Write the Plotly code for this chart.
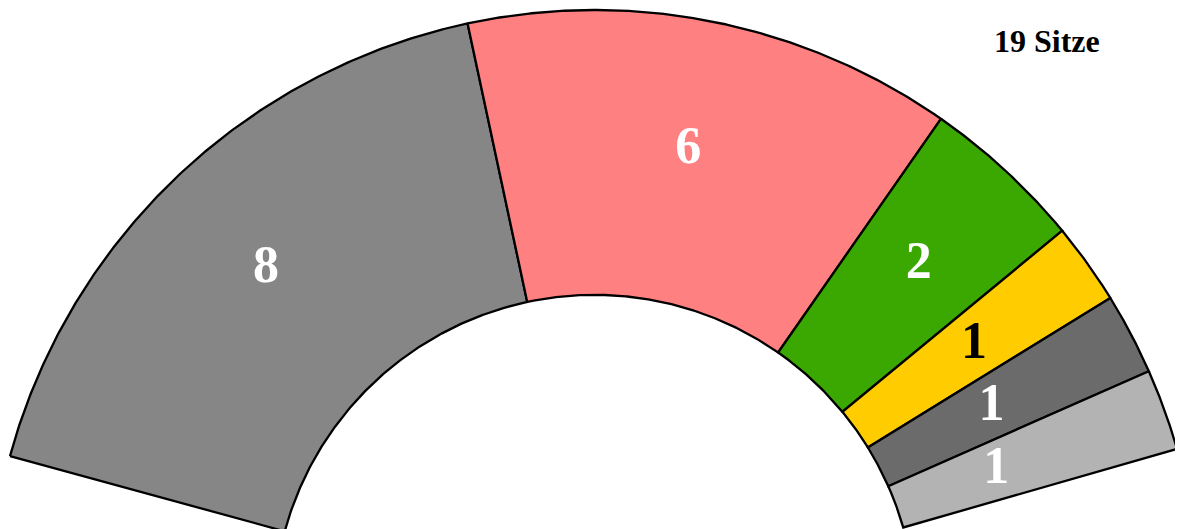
import numpy as np
import plotly.graph_objects as go

# ---- data ----
parties = ["A", "B", "C", "D", "E", "F"]
seats = [8, 6, 2, 1, 1, 1]
seat_labels = ["8", "6", "2", "1", "1", "1"]
title_text = "19 Sitze"

# ---- style ----
colors = ["#868686", "#FF8080", "#3AA800", "#FFCC00", "#6B6B6B", "#B3B3B3"]
text_colors = ["white", "white", "white", "black", "white", "white"]
label_radius = [0.789, 0.784, 0.789, 0.770, 0.740, 0.705]
start_deg, end_deg = 164.7, 16.0
r_out, r_in = 1.0, 0.53
font_family = "Liberation Serif, Times New Roman, serif"

W, H = 1183, 529
page_offset = 8  # default body margin of the html page
px_per_unit = 606.0
cx_px, cy_px = 594.5 - page_offset, 616.0 - page_offset
x_range = [(0 - cx_px) / px_per_unit, (W - cx_px) / px_per_unit]
y_range = [(cy_px - H) / px_per_unit, cy_px / px_per_unit]

fig = go.Figure()
total = sum(seats)
span = start_deg - end_deg
cum = np.concatenate([[0], np.cumsum(seats)])
lab_x, lab_y = [], []
for i, (p, s) in enumerate(zip(parties, seats)):
    a0 = np.radians(start_deg - span * cum[i] / total)
    a1 = np.radians(start_deg - span * cum[i + 1] / total)
    t = np.linspace(a0, a1, 200)
    xs = np.concatenate([r_out * np.cos(t), r_in * np.cos(t[::-1]), [r_out * np.cos(t[0])]])
    ys = np.concatenate([r_out * np.sin(t), r_in * np.sin(t[::-1]), [r_out * np.sin(t[0])]])
    fig.add_trace(go.Scatter(
        x=xs, y=ys, mode="lines", fill="toself", fillcolor=colors[i],
        line=dict(color="black", width=2.3), hoverinfo="skip", showlegend=False,
        name=p,
    ))
    am = (a0 + a1) / 2
    lab_x.append(label_radius[i] * np.cos(am))
    lab_y.append(label_radius[i] * np.sin(am))

fig.add_trace(go.Scatter(
    x=lab_x, y=lab_y, mode="text", text=seat_labels,
    textposition="middle center",
    textfont=dict(family=font_family, size=52, color=text_colors, weight="bold"),
    hoverinfo="skip", showlegend=False,
))

fig.add_annotation(
    text=f"<b>{title_text}</b>", xref="paper", yref="paper",
    x=(1046.5 - page_offset) / W, y=1 - (40.5 - page_offset) / H,
    xanchor="center", yanchor="middle",
    showarrow=False, font=dict(family=font_family, size=32, color="black"),
)

fig.update_xaxes(range=x_range, visible=False, fixedrange=True)
fig.update_yaxes(range=y_range, visible=False, fixedrange=True)
fig.update_layout(
    width=W, height=H, margin=dict(l=0, r=0, t=0, b=0),
    plot_bgcolor="white", paper_bgcolor="white",
)
fig.write_html("out.html")
